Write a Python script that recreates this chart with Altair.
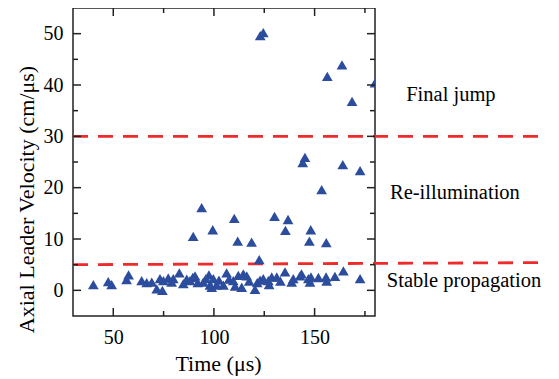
import altair as alt
import pandas as pd

# ---- data ----
time_us = [40.1, 47.5, 49.2, 56.6, 57.6, 64.1, 66.6, 69.1, 71.6, 73.2, 74.4, 74.9, 77.3, 79.0, 79.8,
           82.8, 84.8, 86.5, 88.1, 89.5, 89.7, 90.6, 92.0, 93.9, 94.7, 96.0, 97.5, 98.0, 98.9, 99.4,
           99.7, 101.4, 102.5, 104.7, 106.3, 107.5, 109.6, 110.1, 110.5, 111.8, 112.1, 113.8, 114.6,
           116.3, 117.5, 118.7, 120.4, 121.5, 122.5, 122.9, 123.0, 124.5, 124.5, 127.0, 127.4, 128.7,
           130.1, 131.2, 133.0, 135.3, 135.5, 136.8, 138.6, 139.4, 142.8, 143.5, 144.1, 145.2, 146.9,
           147.4, 147.7, 148.1, 148.2, 151.9, 153.5, 155.7, 155.8, 156.0, 156.3, 160.1, 163.6, 164.0,
           164.3, 168.6, 172.6, 172.6, 180.0]
velocity = [1.1, 1.7, 1.1, 2.1, 3.0, 1.9, 1.5, 1.6, 0.3, 2.3, 0.0, 1.9, 2.4, 1.6, 2.3,
            3.4, 1.3, 2.2, 1.9, 2.5, 10.5, 2.8, 1.5, 16.1, 1.6, 2.3, 3.0, 1.0, 0.6, 11.8,
            2.3, 1.0, 2.0, 1.0, 3.4, 2.2, 1.9, 14.0, 0.8, 9.6, 2.9, 0.6, 3.2,
            2.8, 1.8, 9.4, 0.2, 1.5, 6.0, 2.0, 49.6, 50.2, 2.3, 1.9, 1.1, 2.6,
            14.4, 2.6, 1.8, 3.6, 11.7, 13.8, 1.6, 2.3, 2.8, 3.2, 24.9, 25.9, 2.3,
            9.6, 1.6, 11.8, 2.6, 2.5, 19.6, 2.6, 9.3, 1.8, 41.7, 2.7, 43.9, 24.5,
            3.8, 36.8, 23.3, 2.3, 40.4]

ann_text = ["Final jump", "Re-illumination", "Stable propagation"]
ann_x = [217.7, 219.7, 224.2]
ann_y = [36.9, 17.7, 0.6]

thr_id = ["upper", "upper", "lower", "lower"]
thr_x = [30, 265.4, 30, 265.4]
thr_y = [30.0, 30.0, 5.0, 5.4]

x_major = [50, 100, 150]
x_minor = [75, 125, 175]
y_major = [0, 10, 20, 30, 40, 50]
y_minor = [5, 15, 25, 35, 45]

X_DOMAIN = [30, 180]
Y_DOMAIN = [-5, 55]

# ---- styling ----
W, H = 302, 308
FONT = "Liberation Serif"
BLUE = "#2c4d9d"
RED = "#ee2a2a"
FRAME = "#222222"

pts = pd.DataFrame({"t": time_us, "v": velocity})
ann = pd.DataFrame({"label": ann_text, "t": ann_x, "v": ann_y})
thr = pd.DataFrame({"id": thr_id, "t": thr_x, "v": thr_y})

xs = alt.Scale(domain=X_DOMAIN, nice=False, zero=False)
ys = alt.Scale(domain=Y_DOMAIN, nice=False, zero=False)

xaxis = alt.Axis(values=x_major, ticks=False, domain=False, grid=False,
                 labelFont=FONT, labelFontSize=20, labelColor="black",
                 labelBaseline="alphabetic", labelPadding=27, labelOverlap=False,
                 title="Time (μs)", titleFont=FONT, titleFontSize=22,
                 titleFontWeight="normal", titleColor="black",
                 titleX=145, titleY=54, titleBaseline="alphabetic", titleAlign="center")
yaxis = alt.Axis(values=y_major, ticks=False, domain=False, grid=False,
                 labelFont=FONT, labelFontSize=20, labelColor="black",
                 labelPadding=10, labelOverlap=False,
                 title="Axial Leader Velocity (cm/μs)", titleFont=FONT, titleFontSize=22,
                 titleFontWeight="normal", titleColor="black",
                 titleX=-40, titleY=191, titleAngle=270,
                 titleBaseline="alphabetic", titleAlign="center")

X = lambda: alt.X("t:Q", scale=xs, axis=xaxis)
Y = lambda: alt.Y("v:Q", scale=ys, axis=yaxis)

lines = alt.Chart(thr).mark_line(strokeDash=[15, 10], strokeWidth=2.8, color=RED,
                                 clip=False).encode(x=X(), y=Y(), detail="id:N")

points = alt.Chart(pts).mark_point(shape="triangle-up", filled=True, size=115,
                                   color=BLUE, opacity=1, clip=True).encode(x=X(), y=Y())

texts = alt.Chart(ann).mark_text(font=FONT, fontSize=20.5, color="black", align="center",
                                 baseline="alphabetic", clip=False).encode(
    x=X(), y=Y(), text="label:N")

def xticks(vals, length):
    d = pd.DataFrame({"t": vals})
    bottom = alt.Chart(d).mark_rule(color=FRAME, strokeWidth=1.5).encode(
        x=X(), y=alt.value(H), y2=alt.value(H - length))
    top = alt.Chart(d).mark_rule(color=FRAME, strokeWidth=1.5).encode(
        x=X(), y=alt.value(0), y2=alt.value(length))
    return [bottom, top]

def yticks(vals, length):
    d = pd.DataFrame({"v": vals})
    left = alt.Chart(d).mark_rule(color=FRAME, strokeWidth=1.5).encode(
        y=Y(), x=alt.value(0), x2=alt.value(length))
    right = alt.Chart(d).mark_rule(color=FRAME, strokeWidth=1.5).encode(
        y=Y(), x=alt.value(W), x2=alt.value(W - length))
    return [left, right]

layers = [lines, points, texts] + xticks(x_major, 8) + xticks(x_minor, 5) \
    + yticks(y_major, 8) + yticks(y_minor, 5)

chart = alt.layer(*layers).properties(
    width=W, height=H,
    autosize=alt.AutoSizeParams(type="none"),
    padding={"left": 65, "top": 0, "right": 170, "bottom": 62},
    background="white",
).configure_view(stroke=FRAME, strokeWidth=1.5)

chart.save("out.html", embed_options={"renderer": "svg", "actions": False})
